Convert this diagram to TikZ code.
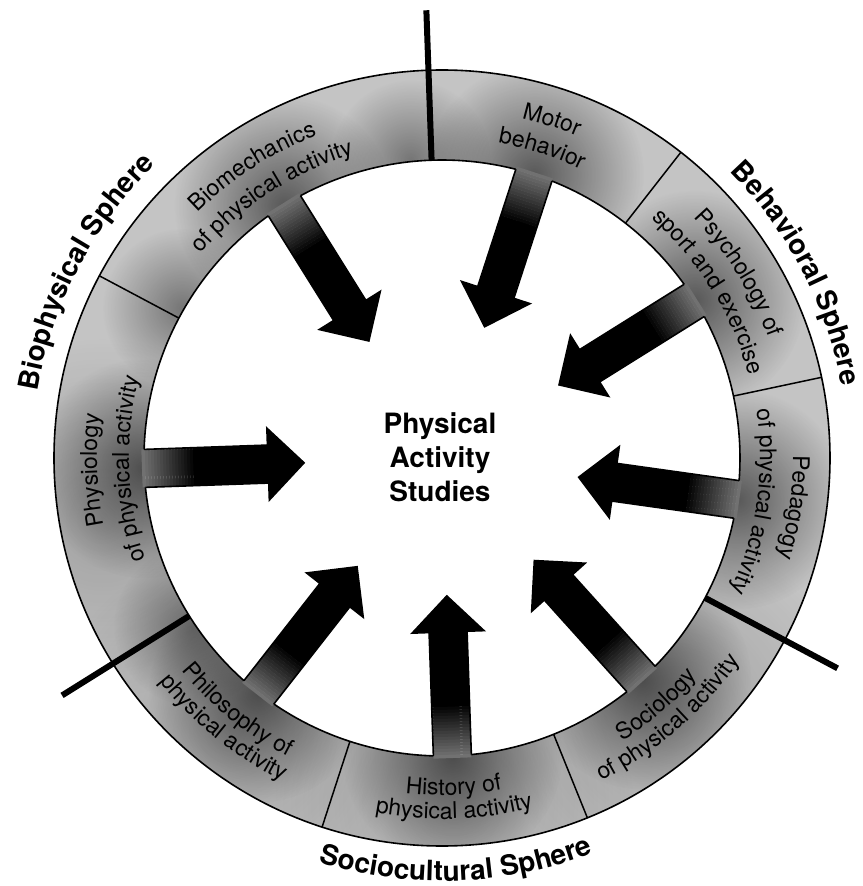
\documentclass[tikz,border=0pt]{standalone}
\usepackage{fontspec}
\setmainfont{TeX Gyre Heros}
\usetikzlibrary{decorations.text,fadings}

\colorlet{ringgrey}{black!23}
\newcommand\ringfont{\fontsize{23}{27}\selectfont}
\newcommand\spherefont{\bfseries\fontsize{28}{34}\selectfont}

% soft round spot: opaque centre, transparent rim
\tikzfading[name=softspot, inner color=transparent!0, outer color=transparent!100]

% text read clockwise (letter tops outward): centre angle, baseline radius, text
\newcommand\cwtext[3]{%
  \path[decorate,decoration={text along path,text align=center,text={#3}}]
    ({#1+45}:#2) arc[start angle={#1+45}, end angle={#1-45}, radius=#2];}
% text read counter-clockwise (letter tops inward)
\newcommand\ccwtext[3]{%
  \path[decorate,decoration={text along path,text align=center,text={#3}}]
    ({#1-45}:#2) arc[start angle={#1-45}, end angle={#1+45}, radius=#2];}

\tikzset{
  outline/.style={line width=1.6pt, line join=miter},
  thindiv/.style={line width=1.5pt},
  spherediv/.style={line width=6pt},
  smudge/.style={fill=black, fill opacity=#1, path fading=softspot},
}

\begin{document}
\begin{tikzpicture}[x=1pt,y=1pt]
  % canvas
  \fill[white] (-442,-428) rectangle (420,458);
  \useasboundingbox (-442,-428) rectangle (420,458);

  % the ring, with airbrushed darker zones
  \begin{scope}[even odd rule]
    \clip (0,0) circle[radius=388] (0,0) circle[radius=298];
    \fill[ringgrey] (0,0) circle[radius=388];
    % lower part of the band is a little darker
    \foreach \a in {190,232,272,312}
      \path[smudge=0.18] (\a:345) circle[radius=180];
    % dark zones at the foot of each arrow
    \foreach \a in {32,72,122,182,232,272,312,352}
      \path[smudge=0.55] (\a:298) circle[radius=110];
    % dark zones next to some dividers
    \foreach \a in {96,150,214}
      \path[smudge=0.4] (\a:300) circle[radius=80];
  \end{scope}

  % arrows pointing to the centre
  \foreach \a in {32,72,122,182,232,272,312,352} {
    \begin{scope}[rotate=\a]
      \fill[black] (138,0) -- (174,36) -- (174,19) -- (246.5,19)
                   -- (246.5,-19) -- (174,-19) -- (174,-36) -- cycle;
      \foreach \k in {0,...,17} {
        \pgfmathsetmacro\rr{246+3*\k}
        \pgfmathsetmacro\tone{100-2.6*\k}
        \fill[black!\tone] (\rr-0.2,-19) rectangle (\rr+3.2,19);
      }
      \draw[outline] (297.4,19) -- (174,19) -- (174,36) -- (138,0)
                     -- (174,-36) -- (174,-19) -- (297.4,-19);
    \end{scope}
  }

  % ring outlines
  \draw[outline] (0,0) circle[radius=388];
  \foreach \a/\b in {32/72,72/122,122/182,182/232,232/272,272/312,312/352,352/392}
    \draw[outline] ({\a+3.66}:298) arc[start angle={\a+3.66}, end angle={\b-3.66}, radius=298];

  % dividers between fields and between spheres
  \foreach \a in {12,52,152,252,292}
    \draw[thindiv] (\a:298) -- (\a:388);
  \foreach \a in {92,212,332}
    \draw[spherediv] (\a:298) -- (\a:448);

  % field names
  \cwtext{72}{349}{|\ringfont|Motor}
  \cwtext{72}{320}{|\ringfont|behavior}
  \cwtext{32}{348}{|\ringfont|Psychology of}
  \cwtext{32}{318}{|\ringfont|sport and exercise}
  \cwtext{352}{351}{|\ringfont|Pedagogy}
  \cwtext{352}{318}{|\ringfont|of physical activity}
  \cwtext{123}{346}{|\ringfont|Biomechanics}
  \cwtext{123}{316}{|\ringfont|of physical activity}
  \cwtext{182}{345}{|\ringfont|Physiology}
  \cwtext{182}{313}{|\ringfont|of physical activity}
  \ccwtext{231}{336}{|\ringfont|Philosophy of}
  \ccwtext{231}{360}{|\ringfont|physical activity}
  \ccwtext{272}{337}{|\ringfont|History of}
  \ccwtext{272}{361}{|\ringfont|physical activity}
  \ccwtext{311}{336}{|\ringfont|Sociology}
  \ccwtext{311}{360}{|\ringfont|of physical activity}

  % sphere names
  \cwtext{152.5}{410}{|\spherefont|Biophysical Sphere}
  \cwtext{27.5}{406}{|\spherefont|Behavioral Sphere}
  \ccwtext{272}{423}{|\spherefont|Sociocultural Sphere}

  % centre
  \node[font=\spherefont, align=center, inner sep=0pt] (hub) at (-2,1)
    {Physical\\Activity\\Studies};
\end{tikzpicture}
\end{document}
